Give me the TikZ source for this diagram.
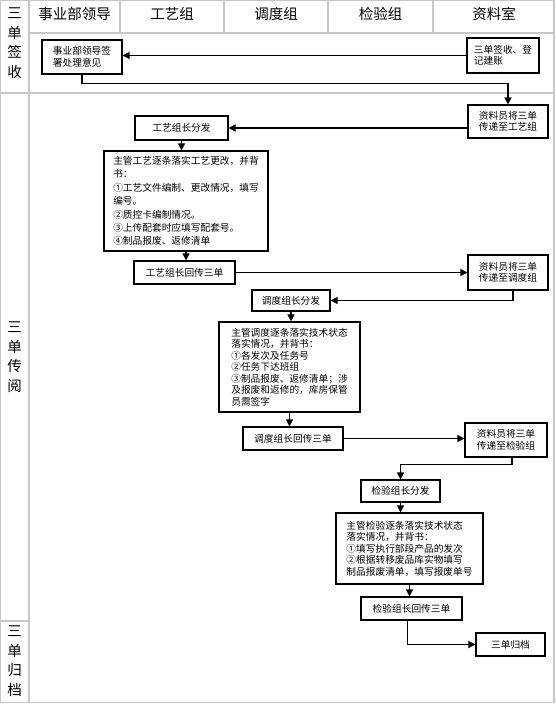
\documentclass[tikz,border=0pt]{standalone}
\usepackage{fontspec}
\setmainfont{Noto Sans CJK SC}
\usetikzlibrary{arrows.meta}

\begin{document}
\begin{tikzpicture}[x=1pt,y=-1pt,
        lane/.style={draw=black!22,line width=1.3pt},
        box/.style={draw,line width=1.1pt,inner sep=0pt,align=left,
            font=\fontsize{9.7}{11.5}\selectfont},
        flow/.style={line width=1.2pt,-{Triangle[length=7pt,width=7pt]}},
        head/.style={font=\fontsize{14.5}{16}\selectfont},
        side/.style={align=center,font=\fontsize{14.5}{19.5}\selectfont}]
        \useasboundingbox (0,0) rectangle (555,704);

        \draw[lane] (0.6,0.6) rectangle (554,702.5);
        \draw[lane] (29,0) -- (29,702.5);
        \draw[lane] (29,33) -- (554,33);
        \foreach \x in {120,224,328,433}
            \draw[lane] (\x,0) -- (\x,33);
        \draw[lane] (0,93) -- (554,93);
        \draw[lane] (0,621) -- (29,621);

        \node[head] (hLead) at (74.5,14) {事业部领导};
        \node[head] (hTech) at (172,14) {工艺组};
        \node[head] (hPlan) at (276,14) {调度组};
        \node[head] (hTest) at (380.5,14) {检验组};
        \node[head] (hDoc) at (494,14) {资料室};

        \node[side] (sRecv) at (14.5,43) {三\\单\\签\\收};
        \node[side] (sPass) at (14.5,357) {三\\单\\传\\阅};
        \node[side] (sFile) at (14.5,661) {三\\单\\归\\档};

        \node[box,minimum width=80pt,minimum height=34pt] (sign) at (82,57) {事业部领导签\\署处理意见};
        \node[box,minimum width=72pt,minimum height=35pt] (record) at (503,55.5) {三单签收、登\\记建账};
        \node[box,align=center,minimum width=80pt,minimum height=33pt] (toGY) at (508,121.5) {资料员将三单\\传递至工艺组};
        \node[box,minimum width=93pt,minimum height=24pt] (gyDist) at (181.5,128) {工艺组长分发};
        \node[box,minimum width=164pt,minimum height=100pt,font=\fontsize{9.7}{13.4}\selectfont] (gyWork) at (186,201)
            {主管工艺逐条落实工艺更改，并背\\书：\\①工艺文件编制、更改情况，填写\\编号。\\②质控卡编制情况。\\③上传配套时应填写配套号。\\④制品报废、返修清单};
        \node[box,minimum width=101pt,minimum height=23pt] (gyBack) at (184.5,272.5) {工艺组长回传三单};
        \node[box,align=center,minimum width=80pt,minimum height=35pt] (toDD) at (508,272.5) {资料员将三单\\传递至调度组};
        \node[box,minimum width=78pt,minimum height=21pt] (ddDist) at (291,300.5) {调度组长分发};
        \node[box,minimum width=141pt,minimum height=90pt] (ddWork) at (289.5,367)
            {主管调度逐条落实技术状态\\落实情况，并背书：\\①各发次及任务号\\②任务下达班组\\③制品报废、返修清单；涉\\及报废和返修的，库房保管\\员需签字};
        \node[box,minimum width=100pt,minimum height=23pt] (ddBack) at (293,438.5) {调度组长回传三单};
        \node[box,align=center,minimum width=82pt,minimum height=34pt] (toJY) at (506,440) {资料员将三单\\传递至检验组};
        \node[box,minimum width=79pt,minimum height=22pt] (jyDist) at (400.5,491) {检验组长分发};
        \node[box,minimum width=147pt,minimum height=71pt] (jyWork) at (409.5,548.5)
            {主管检验逐条落实技术状态\\落实情况，并背书：\\①填写执行部段产品的发次\\②根据转移废品库实物填写\\制品报废清单，填写报废单号};
        \node[box,minimum width=101pt,minimum height=23pt] (jyBack) at (411.5,608.5) {检验组长回传三单};
        \node[box,minimum width=69pt,minimum height=23pt] (archive) at (510.5,644.5) {三单归档};

        \draw[flow] (record.west) -- (record.west -| sign.east);
        \draw[flow] (sign.south) -- ++(0,9) -| (toGY.north);
        \draw[flow] (toGY.west |- gyDist.east) -- (gyDist.east);
        \draw[flow] (gyDist.south) -- (gyDist.south |- gyWork.north);
        \draw[flow] (gyWork.south) -- (gyWork.south |- gyBack.north);
        \draw[flow] (gyBack.east) -- (gyBack.east -| toDD.west);
        \draw[flow] ([xshift=5pt]toDD.south) |- (ddDist.east);
        \draw[flow] (ddDist.south) -- (ddDist.south |- ddWork.north);
        \draw[flow] (ddWork.south) -- (ddWork.south |- ddBack.north);
        \draw[flow] (ddBack.east) -- (ddBack.east -| toJY.west);
        \draw[flow] ([xshift=6pt]toJY.south) -- ++(0,7) -| (jyDist.north);
        \draw[flow] (jyDist.south) -- (jyDist.south |- jyWork.north);
        \draw[flow] (jyWork.south) -- (jyWork.south |- jyBack.north);
        \draw[flow] ([xshift=-4pt]jyBack.south) |- (archive.west);
    \end{tikzpicture}
\end{document}
